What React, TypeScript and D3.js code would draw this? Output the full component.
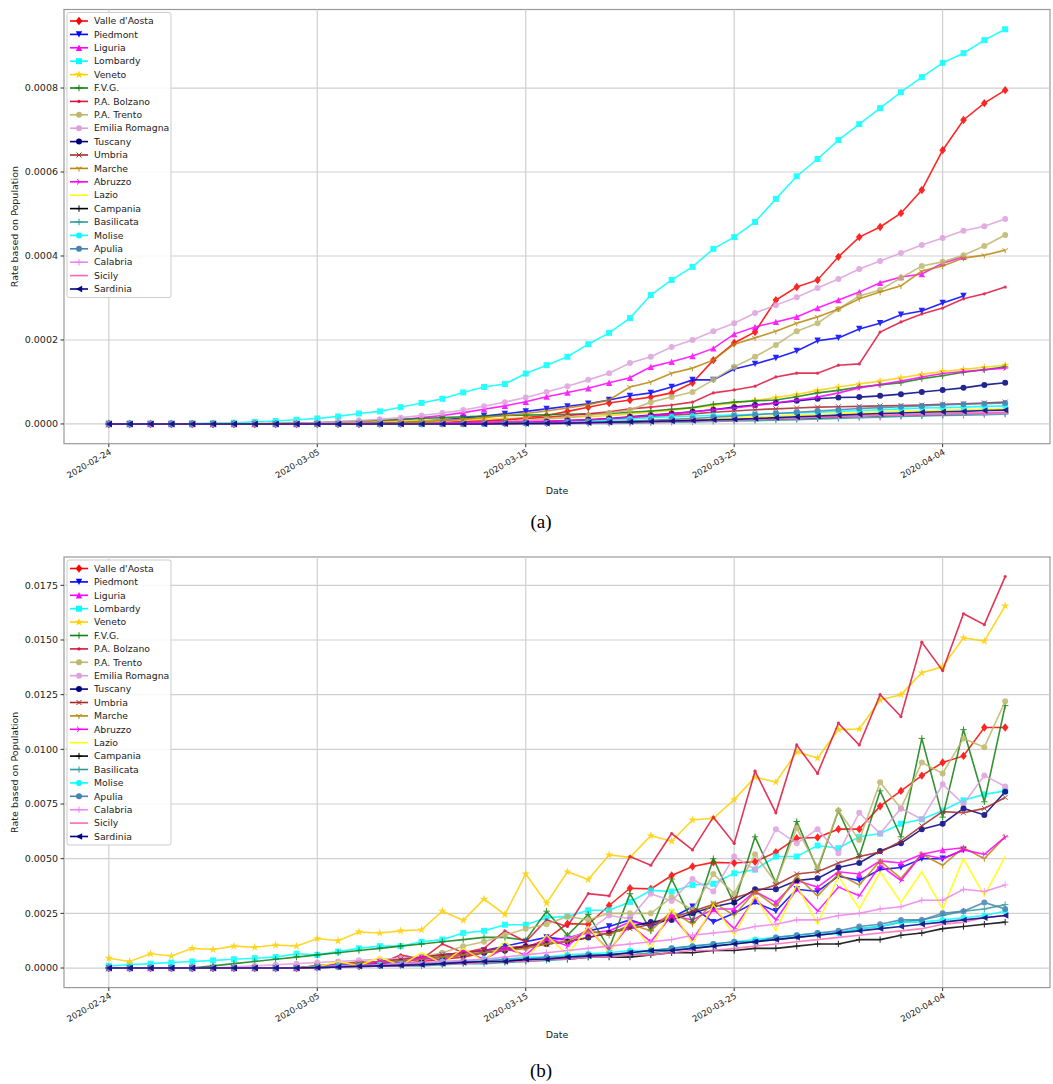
import React from "react";
import * as d3 from "d3";

const regions = ["Valle d'Aosta","Piedmont","Liguria","Lombardy","Veneto","F.V.G.","P.A. Bolzano","P.A. Trento","Emilia Romagna","Tuscany","Umbria","Marche","Abruzzo","Lazio","Campania","Basilicata","Molise","Apulia","Calabria","Sicily","Sardinia"];
const colors = ["#ff0000","#0000ff","#ff00ff","#00ffff","#ffd000","#108010","#dc143c","#bdb76b","#dda0dd","#000080","#a52a2a","#b8860b","#ff00ff","#ffff00","#000000","#2e9a9a","#00ffff","#4682b4","#ee82ee","#ff69b4","#000080"];
const markers = ["D","v","^","s","*","+",".","o","o","o","x","1","4","","+","+","o","o","+","","<"];
const xTickDays = [0,10,20,30,40];
const xTickLabels = ["2020-02-24","2020-03-05","2020-03-15","2020-03-25","2020-04-04"];
const z = (n: number) => Array(n).fill(0);

// Panel (a): cumulative rate, units of 1e-5
const aVals: number[][] = [
  [...z(13),0.1,0.1,0.2,0.3,0.5,0.7,1,1.5,2,3,4,5,5.7,6.4,7.4,9.8,15.2,19.3,21.9,29.5,32.6,34.3,39.8,44.5,46.9,50.2,55.7,65.2,72.4,76.4,79.5],
  [...z(12),0.2,0.3,0.4,0.7,1,1.4,1.9,2.4,3,3.6,4.2,4.8,5.7,6.7,7.4,8.8,10.5,10.5,13.1,14.3,15.7,17.4,19.8,20.5,22.6,24,26,26.9,28.8,30.5],
  [...z(10),0.1,0.3,0.5,0.7,1,1.5,2,2.7,3.5,4.3,5.3,6.5,7.5,8.5,9.8,11,13.6,14.8,16.2,18,21.4,23.1,24.3,25.5,27.6,29.5,31.4,33.6,35,35.7,38.3,39.8],
  [0,0,0,0,0.1,0.2,0.3,0.5,0.7,1,1.3,1.8,2.5,3,4,5,6,7.5,8.8,9.5,12,14,16,19,21.7,25.2,30.7,34.3,37.4,41.7,44.5,48.1,53.6,59,63.1,67.6,71.4,75.2,79,82.6,86,88.3,91.4,94],
  [0,0,0,0,0,0.1,0.1,0.1,0.2,0.2,0.3,0.4,0.5,0.6,0.7,0.8,0.9,1,1.1,1.3,1.4,1.5,1.6,1.7,2,2.4,2.8,3.3,3.8,4.4,5,5.6,6.3,7,8,8.8,9.5,10.2,11,11.8,12.5,13,13.5,14],
  [...z(8),0.1,0.2,0.3,0.5,0.7,0.9,1.1,1.3,1.5,1.7,1.9,2,2.1,2.2,2.3,2.4,2.5,2.8,3.1,3.5,3.9,4.7,5.2,5.5,5.7,6.5,7.4,8,8.8,9.3,9.8,10.8,11.5,12.3,12.9,13.6],
  [...z(15),0.2,0.3,0.5,0.7,1,1.3,1.6,2,2.4,2.9,3.6,4,4.5,5.2,7.4,8.1,9,11.2,12.1,12.1,14,14.3,21.9,24.3,26.2,27.6,29.8,31,32.6],
  [...z(13),0.1,0.1,0.2,0.2,0.3,0.4,0.6,0.9,1.2,1.5,2,2.6,3.3,5.2,6.4,7.6,10.5,13.6,16,18.8,22.1,24,27.4,30.5,31.9,34.8,37.6,38.6,40.2,42.4,45],
  [...z(7),0.05,0.1,0.2,0.3,0.5,0.8,1.1,1.5,2,2.6,3.3,4.2,5.2,6.3,7.6,9,10.5,12.1,14.5,16,18.3,20,22.1,24,26.4,28.3,30.2,32.4,34.5,36.9,38.8,40.7,42.6,44.3,46,47.1,48.8],
  [...z(19),0.2,0.3,0.5,0.8,1,1.3,1.7,2.1,2.5,2.9,3.4,4,4.5,5,5.5,6,6.3,6.4,6.7,7.1,7.6,8.1,8.6,9.3,9.8],
  [...z(18),0.1,0.2,0.3,0.5,0.7,0.9,1.2,1.5,1.8,2.1,2.4,2.8,3.1,3.4,3.6,3.8,4,4.1,4.2,4.3,4.4,4.5,4.7,4.8,5,5.2],
  [...z(13),0.2,0.3,0.5,0.8,1.1,1.5,2,2.5,3.1,3.8,4.6,5.7,8.8,10,12.1,13.3,15.2,19,20.5,22.1,24,25.5,27.4,29.8,31.4,32.9,36.4,37.6,39.5,40.2,41.4],
  [...z(16),0.2,0.3,0.4,0.5,0.6,0.7,0.8,1,1.2,1.6,2,2.4,2.9,3.4,3.8,4.4,5,5.7,6.4,7.4,8.6,9.4,10.2,11.2,12,12.5,12.9,13.3],
  [...z(18),0.05,0.1,0.15,0.2,0.3,0.4,0.5,0.6,0.8,1,1.1,1.3,1.5,1.7,1.9,2.1,2.3,2.5,2.7,2.9,3,3.1,3.3,3.4,3.5,3.6],
  [...z(18),0.05,0.1,0.15,0.2,0.25,0.3,0.4,0.5,0.6,0.7,0.8,0.9,1,1.1,1.2,1.3,1.4,1.6,1.8,1.9,2,2.1,2.2,2.35,2.5,2.6],
  [...z(18),0,0,0,0.05,0.1,0.1,0.15,0.2,0.3,0.4,0.5,0.6,0.7,0.8,0.9,1,1.2,1.3,1.5,1.6,1.8,1.9,2,2.1,2.2,2.3],
  [...z(18),0,0.1,0.1,0.2,0.4,0.6,0.9,1.2,1.5,1.7,1.9,2,2.1,2.3,2.5,2.6,2.8,3,3.2,3.4,3.6,3.8,3.9,4,4.2,4.3],
  [...z(18),0.05,0.1,0.15,0.2,0.3,0.4,0.5,0.7,0.9,1.1,1.3,1.6,1.9,2.2,2.5,2.8,3.1,3.4,3.7,3.9,4.1,4.3,4.5,4.7,4.8,5],
  [...z(18),0,0,0.05,0.1,0.15,0.2,0.3,0.4,0.5,0.6,0.7,0.8,1,1.1,1.3,1.4,1.6,1.7,1.8,2,2.1,2.2,2.3,2.4,2.45,2.5],
  [...z(18),0,0.05,0.1,0.15,0.2,0.25,0.3,0.4,0.5,0.6,0.8,0.9,1,1.2,1.3,1.5,1.6,1.8,2,2.1,2.2,2.4,2.5,2.6,2.7,2.8],
  [...z(18),0,0.05,0.1,0.15,0.2,0.3,0.4,0.5,0.6,0.7,0.8,1,1.1,1.3,1.5,1.7,1.9,2.1,2.3,2.5,2.6,2.8,2.9,3,3.2,3.3],
];

// Panel (b): daily rate, units of 1e-4
const bVals: number[][] = [
  [...z(10),0.5,1,1,2,2,3,4,5,7,8,9.3,13.2,20.3,20,28.6,36.5,36.2,42.3,46.4,48.3,48,48.6,53,59.4,59.7,63.5,63.5,74,81,88,94,97,110,110],
  [...z(10),0.5,1,2,3,4,5,6,7,8,10,12,14,13,17,19,22,19,23,28,21,25,30,26,36,35,42,40,45,46,50,50,54],
  [...z(10),0.5,1,2,3,4,5,6,7,8,9,10,12,14,16,17,21,20,24,22,27,27,35,30,40,37,44,43,49,48,52,54,55],
  [1,1.5,2,2.5,3,3.5,4,4.5,5,6.5,6,7.5,9,10,10,12,13,16,17,19.8,19.8,23,23.6,26.4,26.4,30.2,35.5,35,38,38.5,43.3,45,51,51,56,54.8,60,61.5,66,68,72,76.7,79.4,81],
  [4.5,3,6.5,5.5,9,8.5,10,9.5,10.5,10,13.5,12.5,16.5,16,17,17.5,26,21.8,31.5,24.5,43,29.7,44,40.5,51.7,50.6,60.5,58,67.7,68.5,77,87.3,85,98.8,96,109,109.3,122.6,125,135,137.7,151,149.5,165.6],
  [...z(5),1,2,3,4,5,6,7,8,9,10,11,12,13,14,14,12.7,26,15,24.5,8.9,34,17,40.7,21,50,29.4,60,39,67,45,72,51,81,60,105,69,109,76,120],
  [...z(10),1,1.5,3,2,6,4,11,7,9,17,12,22,19,34,33,51,47,61.5,54,69,57,90,71,102,89,112,102,125,115,149,136,162,157,179],
  [...z(10),1,1.5,2,3,4,5,7,10,12,15,18,20,23.6,22,25,25,25,32.4,26.6,43,34,52,39,64,46,72,58.5,85,73,94,89,105,101,122],
  [...z(6),0.5,1,1.5,2,2.5,3,3.5,4,4.5,5,5.5,6,7,8,9,11,13,17,24,22.6,34,30.6,40.7,35,51,45,63.5,57,63.5,52.5,71,61.5,73,68,84,75,88,83],
  [...z(10),0.5,1,1.5,2,3,4,5,6,7,8,10,11,12,14,16,19,21,22,25,28,30,36,36,40,41,46,48,53.5,57,63.5,66,73,70,80.6],
  [...z(10),1,1.5,2,3,4,5,6,7,8,9,10,11,12,14,16,18,20,23,26,29,32,35,38,43,44,48,51,53,58,65,71.5,71,73,78],
  [...z(10),1,1.5,2,2.5,3,4,5,6,7,8,9,11,12,17,15,20,17,26,20,30,24,35,28,42,33,43,38,49,41,52,47,55,50,60],
  [...z(10),0.5,2,1,3,2,5,3,8,4,9,6,14,10,18,8,20,12,24,13,27,18,32,22,36,26,37,33,47,40,52,50,54,52,60],
  [...z(10),0.5,3,1,5,1,7,2,9,3,12,4,15,6,19,7,22,9,27,11,29,15,33,17,38,20,42,27,44,30,44,27,50,33,51],
  [...z(10),0.2,0.5,0.8,1,1.5,2,2,2.5,3,3,3.5,4,4,5,5,5,6,7,7,8,8,9,9,10,11,11,13,13,15,16,18,19,20,21],
  [...z(10),0,0.5,0.5,1,1,1,1.5,2,2,2.5,3,3.5,4,5,5.5,6,7,8,9,10,11,12,13,14,15,16,18,19,21,22,24,26,27,29],
  [...z(10),0.5,1,1,1.5,2,2,3,3,4,4,5,5,6,6.5,7,8,8,9,10,11,12,13,14,15,16,16,18,19,21,21,22,23,24,26],
  [...z(10),0.2,0.5,1,1,1.5,2,2,3,3,4,4,5,5,6,6,7,8,9,10,11,12,12,14,15,16,17,19,20,22,22,25,26,30,27],
  [...z(11),0.5,1,1.5,2,2.5,3,3.5,4,5,6,7,8,9,10,11,12,13,15,16,17,19,20,22,22,24,25,27,28,31,31,36,35,38],
  [...z(10),0.2,0.5,0.5,1,1,1.5,2,2,2.5,3,3,4,4,5,5,6,6,7,8,8,9,10,11,12,13,14,15,16,17,18,20,21,23,24],
  [...z(10),0.2,0.5,0.8,1,1.2,1.5,2,2.5,3,3,4,4,5,5.5,6,7,8,8,9,10,11,12,13,14,15,16,17,18,19,20,21,22,23,24],
];

const W = 1053;
const L = 64, R = 1050;
const x = d3.scaleLinear().domain([-2.15, 45.15]).range([L, R]);

function Marker({ type, color, cx, cy }: { type: string; color: string; cx: number; cy: number }) {
  const s = 3.2;
  switch (type) {
    case "D": return <path d={`M${cx},${cy - 4.2}L${cx + 3.3},${cy}L${cx},${cy + 4.2}L${cx - 3.3},${cy}Z`} fill={color} />;
    case "v": return <path d={`M${cx - s},${cy - s}L${cx + s},${cy - s}L${cx},${cy + s}Z`} fill={color} />;
    case "^": return <path d={`M${cx - s},${cy + s}L${cx + s},${cy + s}L${cx},${cy - s}Z`} fill={color} />;
    case "<": return <path d={`M${cx + s},${cy - s}L${cx + s},${cy + s}L${cx - s},${cy}Z`} fill={color} />;
    case "s": return <rect x={cx - 3} y={cy - 3} width={6} height={6} fill={color} />;
    case "o": return <circle cx={cx} cy={cy} r={3} fill={color} />;
    case ".": return <circle cx={cx} cy={cy} r={1.6} fill={color} />;
    case "*": return <path d={d3.symbol(d3.symbolStar, 22)() || ""} transform={`translate(${cx},${cy})`} fill={color} />;
    case "+": return <path d={`M${cx - s},${cy}H${cx + s}M${cx},${cy - s}V${cy + s}`} stroke={color} strokeWidth={1} />;
    case "x": return <path d={`M${cx - 2.5},${cy - 2.5}L${cx + 2.5},${cy + 2.5}M${cx - 2.5},${cy + 2.5}L${cx + 2.5},${cy - 2.5}`} stroke={color} strokeWidth={1} />;
    case "1": return <path d={`M${cx},${cy}V${cy + s}M${cx},${cy}L${cx - 2.8},${cy - 1.6}M${cx},${cy}L${cx + 2.8},${cy - 1.6}`} stroke={color} strokeWidth={1} />;
    case "4": return <path d={`M${cx},${cy}H${cx + s}M${cx},${cy}L${cx - 1.6},${cy - 2.8}M${cx},${cy}L${cx - 1.6},${cy + 2.8}`} stroke={color} strokeWidth={1} />;
    default: return null;
  }
}

function Panel({ vals, top, bottom, yMax, ticks, unit, caption, capY }: { vals: number[][]; top: number; bottom: number; yMax: number; ticks: number[]; unit: number; caption: string; capY: number }) {
  const pad = yMax * 0.05;
  const y = d3.scaleLinear().domain([-pad, yMax + pad]).range([bottom, top]);
  const line = d3.line<number>().x((_, i) => x(i)).y((v) => y(v));
  const font = "DejaVu Sans, sans-serif";
  return (
    <g>
      <rect x={L} y={top} width={R - L} height={bottom - top} fill="white" stroke="#999" strokeWidth={1.2} />
      {xTickDays.map((d) => <line key={"gx" + d} x1={x(d)} x2={x(d)} y1={top} y2={bottom} stroke="#d0d0d0" strokeWidth={1.2} />)}
      {ticks.map((t) => <line key={"gy" + t} x1={L} x2={R} y1={y(t)} y2={y(t)} stroke="#d0d0d0" strokeWidth={1.2} />)}
      {ticks.map((t) => (
        <g key={"ty" + t}>
          <line x1={L - 3.5} x2={L} y1={y(t)} y2={y(t)} stroke="#333" />
          <text x={L - 6} y={y(t)} dy="0.35em" textAnchor="end" fontSize={9.5} fontFamily={font} fill="#222">{(t * unit).toFixed(4)}</text>
        </g>
      ))}
      {xTickDays.map((d, i) => (
        <g key={"tx" + d}>
          <line x1={x(d)} x2={x(d)} y1={bottom} y2={bottom + 3.5} stroke="#333" />
          <text transform={`translate(${x(d) + 3},${bottom + 10}) rotate(-30)`} textAnchor="end" fontSize={8.5} fontFamily={font} fill="#222">{xTickLabels[i]}</text>
        </g>
      ))}
      <text x={557} y={bottom + 50} textAnchor="middle" fontSize={9.5} fontFamily={font} fill="#222">Date</text>
      <text transform={`translate(18,${(top + bottom) / 2}) rotate(-90)`} textAnchor="middle" fontSize={9.5} fontFamily={font} fill="#222">Rate based on Population</text>
      {vals.map((s, k) => (
        <g key={"s" + k} opacity={0.85}>
          <path d={line(s) || ""} fill="none" stroke={colors[k]} strokeWidth={1.6} />
          {s.map((v, i) => <Marker key={i} type={markers[k]} color={colors[k]} cx={x(i)} cy={y(v)} />)}
        </g>
      ))}
      <rect x={67} y={top + 3} width={104} height={285} fill="white" fillOpacity={0.85} stroke="#ccc" rx={2} />
      {regions.map((r, k) => {
        const ly = top + 11.5 + k * 13.4;
        return (
          <g key={"l" + k}>
            <line x1={70} x2={88} y1={ly} y2={ly} stroke={colors[k]} strokeWidth={1.6} />
            <Marker type={markers[k]} color={colors[k]} cx={79} cy={ly} />
            <text x={94} y={ly} dy="0.35em" fontSize={9.3} fontFamily={font} fill="#222">{r}</text>
          </g>
        );
      })}
      <text x={541} y={capY} textAnchor="middle" fontSize={19} fontFamily="Liberation Serif, serif" fill="#000">{caption}</text>
    </g>
  );
}

export default function App() {
  return (
    <svg width={W} height={1084} style={{ position: "absolute", left: 0, top: 0, background: "white" }}>
      <rect width={W} height={1084} fill="white" />
      <Panel vals={aVals} top={9.5} bottom={443.7} yMax={94} ticks={[0, 20, 40, 60, 80]} unit={1e-5} caption="(a)" capY={528} />
      <Panel vals={bVals} top={557} bottom={987.6} yMax={179} ticks={[0, 25, 50, 75, 100, 125, 150, 175]} unit={1e-4} caption="(b)" capY={1077} />
    </svg>
  );
}
